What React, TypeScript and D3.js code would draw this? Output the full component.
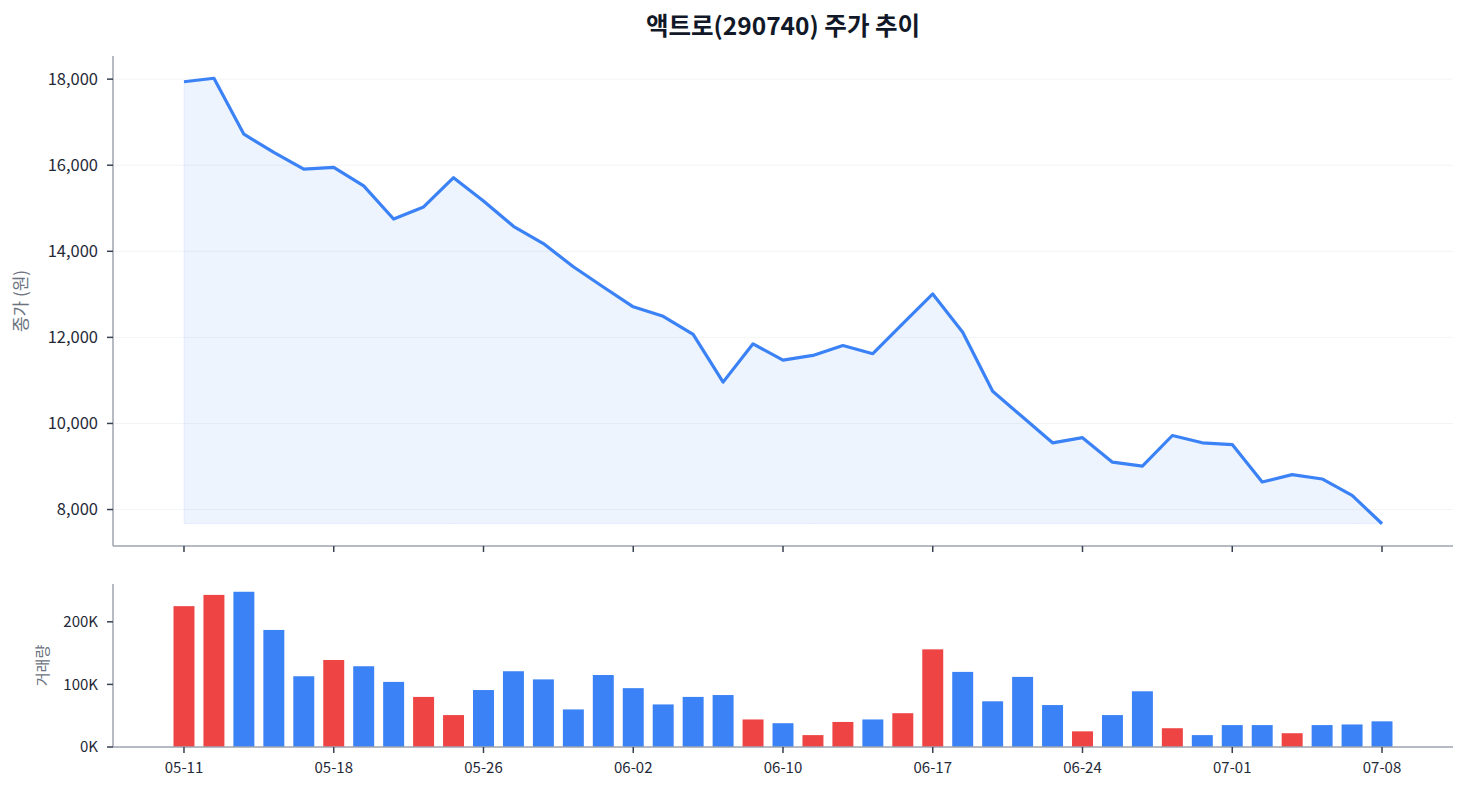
import React from "react";
import * as d3 from "d3";

const dates = [
  "05-11","05-12","05-13","05-14","05-15",
  "05-18","05-19","05-20","05-21","05-22",
  "05-26","05-27","05-28","05-29","06-01",
  "06-02","06-04","06-05","06-08","06-09",
  "06-10","06-11","06-12","06-15","06-16",
  "06-17","06-18","06-19","06-22","06-23",
  "06-24","06-25","06-26","06-29","06-30",
  "07-01","07-02","07-03","07-06","07-07",
  "07-08",
];

const closes = [
  17940, 18020, 16720, 16300, 15910,
  15950, 15520, 14750, 15030, 15710,
  15170, 14580, 14180, 13640, 13170,
  12710, 12490, 12070, 10960, 11850,
  11470, 11580, 11810, 11620, 12320,
  13010, 12120, 10750, 10150, 9550,
  9670, 9100, 9010, 9720, 9550,
  9510, 8640, 8810, 8710, 8330,
  7670,
];

// volume bar colour: true = up day (red), false = down day (blue)
const upDays = [
  true, true, false, false, false,
  true, false, false, true, true,
  false, false, false, false, false,
  false, false, false, false, true,
  false, true, true, false, true,
  true, false, false, false, false,
  true, false, false, true, false,
  false, false, true, false, false,
  false,
];

const volumes = [
  225000, 243000, 248000, 187000, 113000,
  139000, 129000, 104000, 80000, 51000,
  91000, 121000, 108000, 60000, 115000,
  94000, 68000, 80000, 83000, 44000,
  38000, 19000, 40000, 44000, 54000,
  156000, 120000, 73000, 112000, 67000,
  25000, 51000, 89000, 30000, 19000,
  35000, 35000, 22000, 35000, 36000,
  41000,
];

const tickIdx = [0, 5, 10, 15, 20, 25, 30, 35, 40];
const priceTicks = [8000, 10000, 12000, 14000, 16000, 18000];
const volTicks = [0, 100000, 200000];

const FONT = "'Noto Sans CJK KR', 'Noto Sans', sans-serif";
const AXIS = "#9ca3af";
const TICK = "#374151";
const TEXT = "#1f2937";
const BLUE = "#3b82f6";
const RED = "#ef4444";

export default function App() {
  const W = 1468, H = 794;
  const left = 113, right = 1453;
  const pTop = 56, pBot = 546;
  const vTop = 584, vBot = 747;

  const n = closes.length;
  const x = d3.scalePoint<number>().domain(d3.range(n)).range([left, right]).padding(2.37);
  const step = x.step();
  const barW = step * 0.7;

  const minC = d3.min(closes)!;
  const maxC = d3.max(closes)!;
  const pad = (maxC - minC) * 0.05;
  const y = d3.scaleLinear().domain([minC - pad, maxC + pad]).range([pBot, pTop]);
  const yv = d3.scaleLinear().domain([0, d3.max(volumes)! * 1.05]).range([vBot, vTop]);

  const line = d3.line<number>().x((_, i) => x(i)!).y((d) => y(d));
  const area = d3.area<number>().x((_, i) => x(i)!).y0(y(minC)).y1((d) => y(d));

  return (
    <svg width={W} height={H} style={{ position: "absolute", left: 0, top: 0, background: "#fff" }} fontFamily={FONT}>
      <text x={(left + right) / 2} y={28} textAnchor="middle" dominantBaseline="middle" fontSize={24.5} fontWeight={700} fill="#111827">
        액트로(290740) 주가 추이
      </text>

      {/* price gridlines */}
      {priceTicks.map((t) => (
        <line key={t} x1={left} x2={right} y1={y(t)} y2={y(t)} stroke="#f3f4f6" strokeWidth={1} />
      ))}

      <path d={area(closes)!} fill={BLUE} fillOpacity={0.09} stroke={BLUE} strokeOpacity={0.08} strokeWidth={1} />
      <path d={line(closes)!} fill="none" stroke={BLUE} strokeWidth={3.2} strokeLinejoin="round" />

      {/* price y axis */}
      <line x1={left} x2={left} y1={pTop} y2={pBot} stroke={AXIS} strokeWidth={1.5} />
      {priceTicks.map((t) => (
        <g key={t} transform={`translate(${left},${y(t)})`}>
          <line x1={-6} x2={0} stroke={TICK} strokeWidth={1.5} />
          <text x={-15} dy="0.34em" textAnchor="end" fontSize={16.5} fill={TEXT}>
            {d3.format(",")(t)}
          </text>
        </g>
      ))}
      {/* price x axis */}
      <line x1={left} x2={right} y1={pBot} y2={pBot} stroke={AXIS} strokeWidth={1.5} />
      {tickIdx.map((i) => (
        <line key={i} x1={x(i)} x2={x(i)} y1={pBot} y2={pBot + 6} stroke={TICK} strokeWidth={1.5} />
      ))}
      <text transform={`translate(22,${(pTop + pBot) / 2}) rotate(-90)`} textAnchor="middle" dominantBaseline="middle" fontSize={17} fill="#6b7280">
        종가 (원)
      </text>

      {/* volume bars */}
      {volumes.map((v, i) => (
        <rect key={i} x={x(i)! - barW / 2} y={yv(v)} width={barW} height={vBot - yv(v)} fill={upDays[i] ? RED : BLUE} />
      ))}
      <line x1={left} x2={left} y1={vTop} y2={vBot} stroke={AXIS} strokeWidth={1.5} />
      {volTicks.map((t) => (
        <g key={t} transform={`translate(${left},${yv(t)})`}>
          <line x1={-6} x2={0} stroke={TICK} strokeWidth={1.5} />
          <text x={-15} dy="0.34em" textAnchor="end" fontSize={15} fill={TEXT}>
            {t / 1000}K
          </text>
        </g>
      ))}
      <line x1={left} x2={right} y1={vBot} y2={vBot} stroke={AXIS} strokeWidth={1.5} />
      {tickIdx.map((i) => (
        <g key={i} transform={`translate(${x(i)},${vBot})`}>
          <line y1={0} y2={6} stroke={TICK} strokeWidth={1.5} />
          <text y={15} dy="0.71em" textAnchor="middle" fontSize={15} fill={TEXT}>
            {dates[i]}
          </text>
        </g>
      ))}
      <text transform={`translate(44,${(vTop + vBot) / 2}) rotate(-90)`} textAnchor="middle" dominantBaseline="middle" fontSize={15} fill="#6b7280">
        거래량
      </text>
    </svg>
  );
}
